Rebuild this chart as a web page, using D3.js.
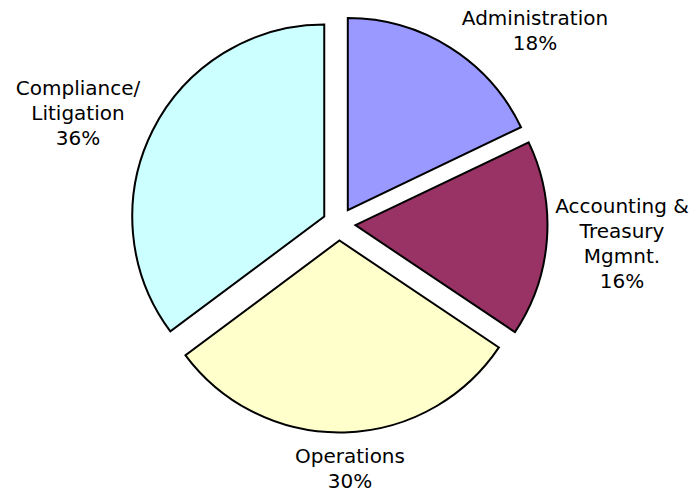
<!DOCTYPE html>
<html>
<head>
<meta charset="utf-8">
<script src="https://cdn.jsdelivr.net/npm/d3@7"></script>
<style>
  body { margin: 0; background: #fff; }
  text { font-family: "DejaVu Sans", Verdana, sans-serif; font-size: 20px; fill: #000; }
</style>
</head>
<body>
<div id="chart"></div>
<script>
// data (slice sizes, labels show rounded %)
const categories = ["Administration", "Accounting & Treasury Mgmnt.", "Operations", "Compliance/ Litigation"];
const values = [17.9, 16.5, 30.4, 35.2];
const colors = ["#9999FF", "#993366", "#FFFFCC", "#CCFFFF"];
const labelLines = [
  ["Administration", "18%"],
  ["Accounting &", "Treasury", "Mgmnt.", "16%"],
  ["Operations", "30%"],
  ["Compliance/", "Litigation", "36%"]
];

// layout
const width = 691, height = 492;
const cx = 339, cy = 224, radius = 192, explode = 16.5;
// label centre x / first baseline, picked to match the original placement
const labelAt = [[535, 25], [622, 213], [350, 463], [78, 95]];
const lineGap = 25;

const svg = d3.select("#chart").append("svg")
  .attr("width", width).attr("height", height);

const pie = d3.pie().sort(null).value(d => d);
const arcs = pie(values);
const arc = d3.arc().innerRadius(0).outerRadius(radius);

const g = svg.append("g").attr("transform", `translate(${cx},${cy})`);

g.selectAll("path")
  .data(arcs)
  .join("path")
  .attr("transform", d => {
    const a = (d.startAngle + d.endAngle) / 2;
    return `translate(${Math.sin(a) * explode},${-Math.cos(a) * explode})`;
  })
  .attr("d", arc)
  .attr("fill", (d, i) => colors[i])
  .attr("stroke", "#000")
  .attr("stroke-width", 2)
  .attr("stroke-linejoin", "miter");

const labels = svg.append("g")
  .selectAll("text")
  .data(arcs)
  .join("text")
  .attr("text-anchor", "middle")
  .attr("x", (d, i) => labelAt[i][0])
  .attr("y", (d, i) => labelAt[i][1]);

labels.selectAll("tspan")
  .data((d, i) => labelLines[i].map(t => ({ t, x: labelAt[i][0] })))
  .join("tspan")
  .attr("x", d => d.x)
  .attr("dy", (d, j) => j === 0 ? 0 : lineGap)
  .text(d => d.t);
</script>
</body>
</html>
